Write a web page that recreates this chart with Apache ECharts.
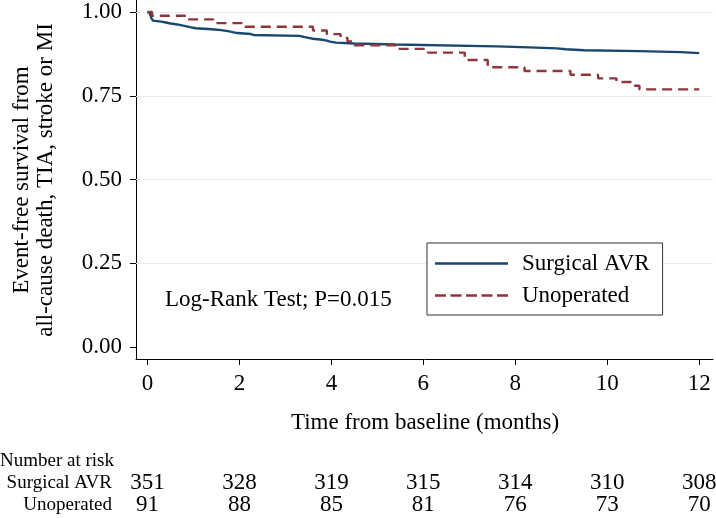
<!DOCTYPE html>
<html><head><meta charset="utf-8">
<script src="https://cdn.jsdelivr.net/npm/echarts@6/dist/echarts.min.js"></script>
<style>html,body{margin:0;padding:0;background:#fff}#c{width:716px;height:518px}</style>
</head><body><div id="c"></div>
<script>
// ---- data ----
const xTicks = [0, 2, 4, 6, 8, 10, 12];
const yTicks = [0, 0.25, 0.5, 0.75, 1];
const yTickLabels = ['0.00', '0.25', '0.50', '0.75', '1.00'];
const gridYValues = [0.25, 0.5, 0.75, 1];

const surgicalTime = [0, 0.02, 0.05, 0.08, 0.12, 0.15, 0.3, 0.4, 0.5, 0.65, 0.75, 0.85, 0.95, 1.05, 1.4, 1.6, 1.75, 1.85, 1.95, 2.25, 2.3, 3.3, 3.4, 3.5, 3.6, 3.8, 3.9, 3.97, 4.1, 4.5, 5.4, 7.6, 8.3, 8.9, 9.1, 9.5, 10.7, 11.6, 12];
const surgicalSurv = [1, 0.9972, 0.9915, 0.9829, 0.9744, 0.9715, 0.9687, 0.9658, 0.9630, 0.9601, 0.9573, 0.9544, 0.9516, 0.9487, 0.9459, 0.9430, 0.9402, 0.9373, 0.9345, 0.9316, 0.9288, 0.9259, 0.9231, 0.9202, 0.9174, 0.9145, 0.9117, 0.9088, 0.9060, 0.9031, 0.8974, 0.8946, 0.8917, 0.8889, 0.8860, 0.8832, 0.8803, 0.8775, 0.8775];

const unopTime = [0, 0.1, 0.87, 1.43, 2.09, 3.6, 3.9, 4.2, 4.35, 4.5, 5.45, 6.1, 6.9, 7.4, 8.2, 9.2, 9.8, 10.2, 10.6, 10.7, 12];
const unopSurv = [1, 0.989, 0.978, 0.967, 0.956, 0.945, 0.934, 0.923, 0.912, 0.901, 0.890, 0.879, 0.857, 0.835, 0.824, 0.813, 0.802, 0.791, 0.780, 0.769, 0.769];

const riskTimes = [0, 2, 4, 6, 8, 10, 12];
const riskSurgical = [351, 328, 319, 315, 314, 310, 308];
const riskUnop = [91, 88, 85, 81, 76, 73, 70];

const seriesNames = ['Surgical AVR', 'Unoperated'];
const colors = ['#1a476f', '#90353b'];

// ---- chart ----
const FONT = 'Liberation Serif';
const chart = echarts.init(document.getElementById('c'), null, {renderer: 'canvas'});
const zip = (a, b) => a.map((v, i) => [v, b[i]]);

const solidIcon = 'path://M0,0h73v2.4h-73z';
const dashIcon = 'path://M0,0h11v2.4h-11zM15.5,0h11v2.4h-11zM31,0h11v2.4h-11zM46.5,0h11v2.4h-11zM62,0h11v2.4h-11z';

chart.setOption({
  animation: false,
  backgroundColor: '#fff',
  grid: {left: 136, right: 3, top: 0, bottom: 159, containLabel: false},
  xAxis: {
    type: 'value', min: -0.25, max: 12.3,
    axisLine: {show: true, onZero: false, lineStyle: {color: '#000', width: 1}},
    axisTick: {show: true, customValues: xTicks, length: 6, lineStyle: {color: '#000'}},
    axisLabel: {customValues: xTicks, margin: 13, color: '#000', fontFamily: FONT, fontSize: 23},
    splitLine: {show: false}
  },
  yAxis: {
    type: 'value', min: -0.036, max: 1.036,
    axisLine: {show: true, onZero: false, lineStyle: {color: '#000', width: 1}},
    axisTick: {show: true, customValues: yTicks, length: 6, lineStyle: {color: '#000'}},
    axisLabel: {customValues: yTicks, margin: 14, color: '#000', fontFamily: FONT, fontSize: 23,
      formatter: v => yTickLabels[yTicks.indexOf(v)] || ''},
    splitLine: {show: false}
  },
  legend: {
    orient: 'vertical', left: 427, top: 243, z: 10,
    padding: [9, 13, 8, 8], itemGap: 9, itemWidth: 73, itemHeight: 2.4,
    borderColor: '#333', borderWidth: 1, backgroundColor: '#fff',
    textStyle: {fontFamily: FONT, fontSize: 23, color: '#000', padding: [0, 0, 0, 9]},
    data: [{name: seriesNames[0], icon: solidIcon}, {name: seriesNames[1], icon: dashIcon}]
  },
  series: [
    {
      type: 'line', name: '_grid', data: [], silent: true, z: 1,
      markLine: {silent: true, z: 1, symbol: 'none', label: {show: false}, animation: false,
        lineStyle: {color: '#e6eef0', width: 1, type: 'solid'},
        data: gridYValues.map(v => ({yAxis: v}))}
    },
    {
      type: 'line', name: seriesNames[0], step: 'end', showSymbol: false, symbol: 'none', z: 3,
      data: zip(surgicalTime, surgicalSurv), color: colors[0],
      itemStyle: {color: colors[0]},
      lineStyle: {color: colors[0], width: 2.4, type: 'solid'}
    },
    {
      type: 'line', name: seriesNames[1], step: 'end', showSymbol: false, symbol: 'none', z: 3,
      data: zip(unopTime, unopSurv), color: colors[1],
      itemStyle: {color: colors[1]},
      lineStyle: {color: colors[1], width: 2.4, type: [10, 6]}
    }
  ]
});

const graphics = [];
graphics.push({
  type: 'text', x: 34, y: 180, rotation: Math.PI / 2, silent: true,
  style: {text: 'Event-free survival from\nall-cause death, TIA, stroke or MI', align: 'center', verticalAlign: 'middle',
    font: '23px "Liberation Serif"', lineHeight: 24, fill: '#000'}
});
graphics.push({
  type: 'text', x: 425, y: 423, silent: true,
  style: {text: 'Time from baseline (months)', align: 'center', verticalAlign: 'middle', font: '23px "Liberation Serif"', fill: '#000'}
});
graphics.push({
  type: 'text', x: 165, y: 300, silent: true,
  style: {text: 'Log-Rank Test; P=0.015', align: 'left', verticalAlign: 'middle', font: '23px "Liberation Serif"', fill: '#000'}
});
graphics.push({type: 'text', x: 0, y: 461, silent: true,
  style: {text: 'Number at risk', align: 'left', verticalAlign: 'middle', font: '19px "Liberation Serif"', fill: '#000'}});
graphics.push({type: 'text', x: 112, y: 483, silent: true,
  style: {text: seriesNames[0], align: 'right', verticalAlign: 'middle', font: '19px "Liberation Serif"', fill: '#000'}});
graphics.push({type: 'text', x: 112, y: 505, silent: true,
  style: {text: seriesNames[1], align: 'right', verticalAlign: 'middle', font: '19px "Liberation Serif"', fill: '#000'}});
riskTimes.forEach((t, i) => {
  const px = chart.convertToPixel({xAxisIndex: 0}, t);
  graphics.push({type: 'text', x: px, y: 483, silent: true,
    style: {text: String(riskSurgical[i]), align: 'center', verticalAlign: 'middle', font: '23px "Liberation Serif"', fill: '#000'}});
  graphics.push({type: 'text', x: px, y: 505, silent: true,
    style: {text: String(riskUnop[i]), align: 'center', verticalAlign: 'middle', font: '23px "Liberation Serif"', fill: '#000'}});
});
chart.setOption({graphic: graphics});
</script>
</body></html>
